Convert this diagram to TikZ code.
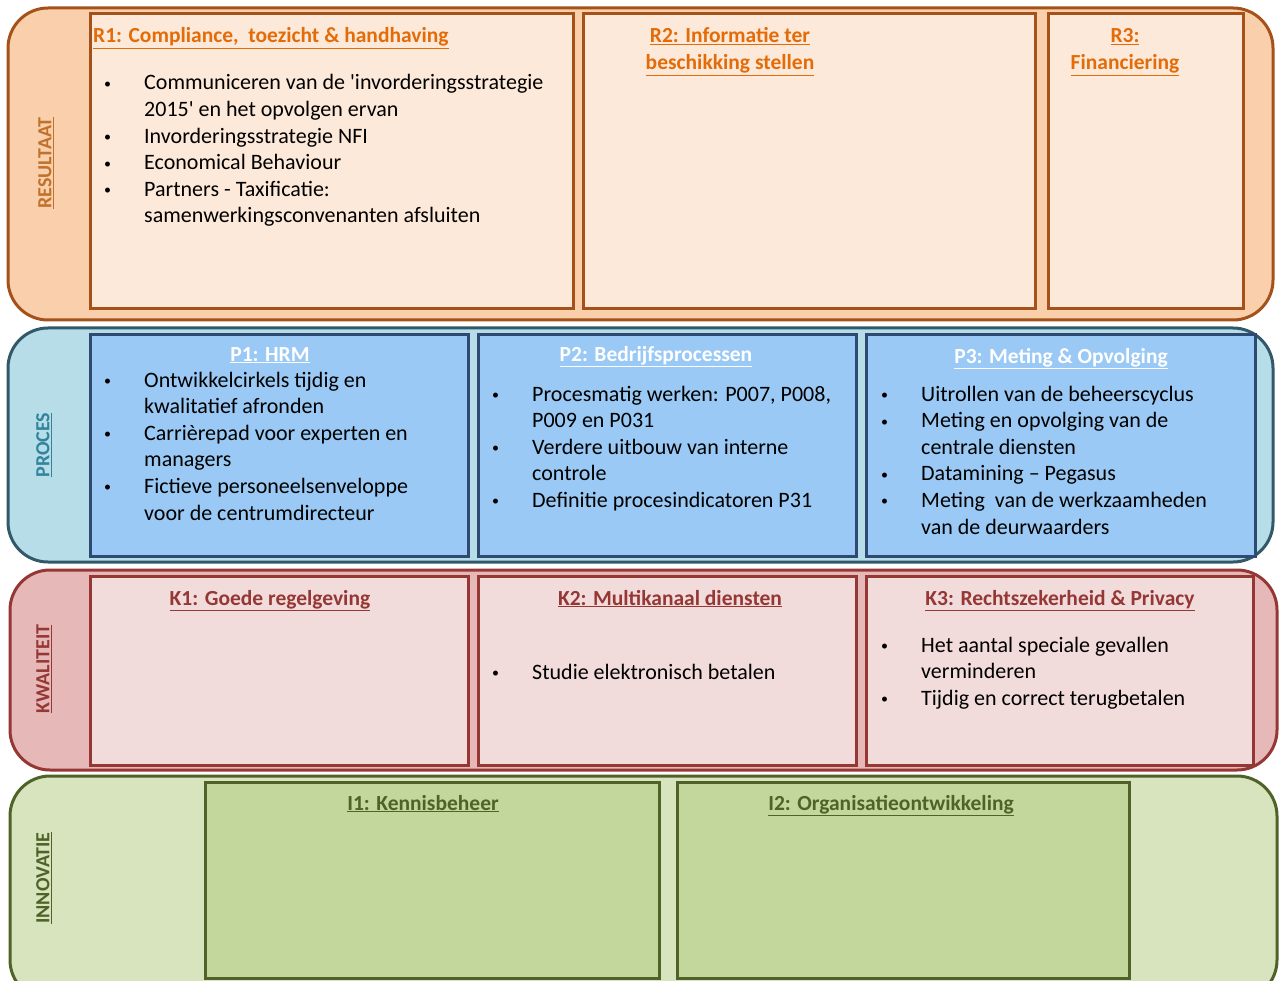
\documentclass[tikz,border=0pt]{standalone}
\usepackage{fontspec}
\setmainfont{Carlito}
\usepackage{array}

\definecolor{resFill}{HTML}{FAD0AC}
\definecolor{resBox}{HTML}{FDE9D9}
\definecolor{resLine}{HTML}{A5521A}
\definecolor{resHead}{HTML}{E36C09}
\definecolor{resLab}{HTML}{C0712C}
\definecolor{proFill}{HTML}{B7DDE8}
\definecolor{proBox}{HTML}{99C9F4}
\definecolor{proLine}{HTML}{31596A}
\definecolor{proBoxLine}{HTML}{2E4A73}
\definecolor{proLab}{HTML}{31849B}
\definecolor{kwaFill}{HTML}{E6B9B8}
\definecolor{kwaBox}{HTML}{F2DCDB}
\definecolor{kwaLine}{HTML}{953735}
\definecolor{innFill}{HTML}{D7E4BD}
\definecolor{innBox}{HTML}{C3D69B}
\definecolor{innLine}{HTML}{4F6228}

% small bullet mark for the lists
\newcommand{\dotmark}{\raisebox{1.5pt}{\fontsize{14}{14}\selectfont\textbullet}}
\newcommand{\bulletlist}[1]{\begin{tabular}[t]{@{}p{40pt}@{}l@{}}#1\end{tabular}}
\newcommand{\headlines}[1]{\begin{tabular}[t]{@{}c@{}}#1\end{tabular}}

\tikzset{
  band/.style={rounded corners=40pt, line width=3pt},
  cell/.style={line width=3pt},
  body/.style={font=\fontsize{22}{26.6}\selectfont, inner sep=0pt, anchor=base west},
  head/.style={font=\bfseries\fontsize{21.5}{27}\selectfont, inner sep=0pt, anchor=base},
  lane/.style={font=\bfseries\fontsize{20}{22}\selectfont, inner sep=0pt, rotate=90, anchor=center}
}

\begin{document}
\begin{tikzpicture}[x=1pt,y=-1pt]
\useasboundingbox (0,0) rectangle (1279,981);
\clip (0,0) rectangle (1279,981);

% ---------- RESULTAAT ----------
\draw[band, fill=resFill, draw=resLine] (8,8) rectangle (1273,320);
\draw[cell, fill=resBox, draw=resLine] (90,14) rectangle (573,309);
\draw[cell, fill=resBox, draw=resLine] (583,14) rectangle (1035,309);
\draw[cell, fill=resBox, draw=resLine] (1048,14) rectangle (1243,309);
\node[lane, text=resLab] (labR) at (46,163) {\underline{RESULTAAT}};
\node[head, anchor=base west, text=resHead] (r1) at (93,43) {\underline{R1: Compliance, \ toezicht \& handhaving}};
\node[head, text=resHead] (r2) at (730,43) {\headlines{\underline{R2: Informatie ter}\\ \underline{beschikking stellen}}};
\node[head, text=resHead] (r3) at (1125,43) {\headlines{\underline{R3:}\\ \underline{Financiering}}};
\node[body] (r1list) at (104,90) {\bulletlist{
  \dotmark & Communiceren van de \textquotesingle invorderingsstrategie\\
  & 2015\textquotesingle\ en het opvolgen ervan\\
  \dotmark & Invorderingsstrategie NFI\\
  \dotmark & Economical Behaviour\\
  \dotmark & Partners - Taxificatie:\\
  & samenwerkingsconvenanten afsluiten}};

% ---------- PROCES ----------
\draw[band, fill=proFill, draw=proLine] (8,328) rectangle (1273,562);
\draw[cell, fill=proBox, draw=proBoxLine] (90,335) rectangle (468,556);
\draw[cell, fill=proBox, draw=proBoxLine] (478,335) rectangle (856,556);
\draw[cell, fill=proBox, draw=proBoxLine] (866,335) rectangle (1255,556);
\node[lane, text=proLab] (labP) at (44,445) {\underline{PROCES}};
\node[head, text=white] (p1) at (270,361) {\underline{P1: HRM}};
\node[head, text=white] (p2) at (656,361) {\underline{P2: Bedrijfsprocessen}};
\node[head, text=white] (p3) at (1061,363) {\underline{P3: Meting \& Opvolging}};
\node[body] (p1list) at (104,387) {\bulletlist{
  \dotmark & Ontwikkelcirkels tijdig en\\
  & kwalitatief afronden\\
  \dotmark & Carrièrepad voor experten en\\
  & managers\\
  \dotmark & Fictieve personeelsenveloppe\\
  & voor de centrumdirecteur}};
\node[body] (p2list) at (492,401) {\bulletlist{
  \dotmark & Procesmatig werken: P007, P008,\\
  & P009 en P031\\
  \dotmark & Verdere uitbouw van interne\\
  & controle\\
  \dotmark & Definitie procesindicatoren P31}};
\node[body] (p3list) at (881,401) {\bulletlist{
  \dotmark & Uitrollen van de beheerscyclus\\
  \dotmark & Meting en opvolging van de\\
  & centrale diensten\\
  \dotmark & Datamining – Pegasus\\
  \dotmark & Meting \ van de werkzaamheden\\
  & van de deurwaarders}};

% ---------- KWALITEIT ----------
\draw[band, fill=kwaFill, draw=kwaLine] (10,570) rectangle (1277,770);
\draw[cell, fill=kwaBox, draw=kwaLine] (90,576) rectangle (468,765);
\draw[cell, fill=kwaBox, draw=kwaLine] (478,576) rectangle (856,765);
\draw[cell, fill=kwaBox, draw=kwaLine] (866,576) rectangle (1253,765);
\node[lane, text=kwaLine] (labK) at (44,669) {\underline{KWALITEIT}};
\node[head, text=kwaLine] (k1) at (270,605) {\underline{K1: Goede regelgeving}};
\node[head, text=kwaLine] (k2) at (670,605) {\underline{K2: Multikanaal diensten}};
\node[head, text=kwaLine] (k3) at (1060,605) {\underline{K3: Rechtszekerheid \& Privacy}};
\node[body] (k2list) at (492,679) {\bulletlist{
  \dotmark & Studie elektronisch betalen}};
\node[body] (k3list) at (881,652) {\bulletlist{
  \dotmark & Het aantal speciale gevallen\\
  & verminderen\\
  \dotmark & Tijdig en correct terugbetalen}};

% ---------- INNOVATIE ----------
\draw[band, fill=innFill, draw=innLine] (10,776) rectangle (1277,1000);
\draw[cell, fill=innBox, draw=innLine] (205,782) rectangle (659,978);
\draw[cell, fill=innBox, draw=innLine] (677,782) rectangle (1129,978);
\node[lane, text=innLine] (labI) at (44,878) {\underline{INNOVATIE}};
\node[head, text=innLine] (i1) at (423,810) {\underline{I1: Kennisbeheer}};
\node[head, text=innLine] (i2) at (891,810) {\underline{I2: Organisatieontwikkeling}};
\end{tikzpicture}
\end{document}
